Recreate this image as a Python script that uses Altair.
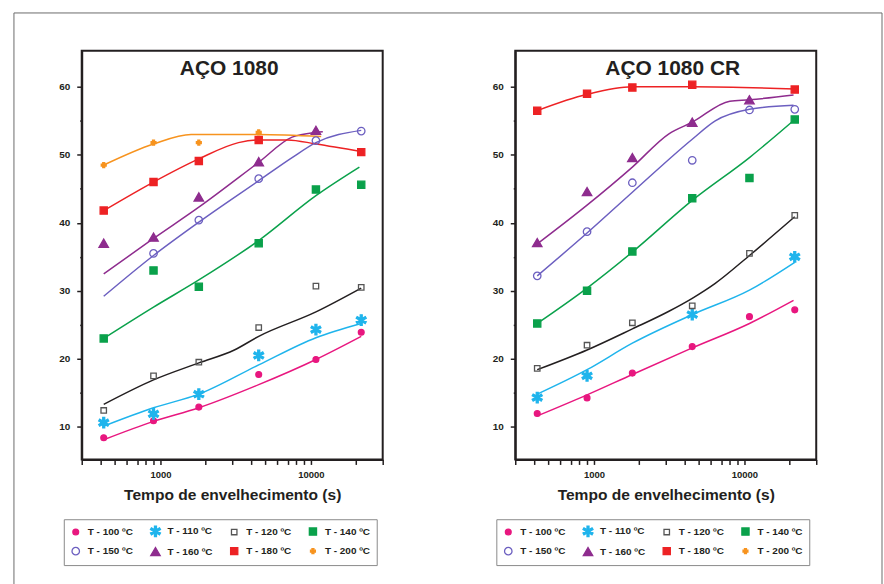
import math
import altair as alt
import pandas as pd

# ---------------- data ----------------
series = ["T - 100 ºC", "T - 110 ºC", "T - 120 ºC", "T - 140 ºC",
          "T - 150 ºC", "T - 160 ºC", "T - 180 ºC", "T - 200 ºC"]
times = [420, 900, 1800, 4500, 10800, 21600]

# AÇO 1080 - measured points (None = no point)
l_100 = [8.4, 10.9, 12.9, 17.7, 19.9, 23.9]
l_110 = [10.6, 11.9, 14.8, 20.5, 24.3, 25.7]
l_120 = [12.4, 17.5, 19.5, 24.6, 30.7, 30.5]
l_140 = [23.0, 33.0, 30.6, 37.0, 44.9, 45.6]
l_150 = [None, 35.5, 40.4, 46.5, 52.1, 53.5]
l_160 = [37.0, 37.9, 43.8, 49.0, 53.6, None]
l_180 = [41.8, 46.0, 49.1, 52.2, None, 50.4]
l_200 = [48.5, 51.8, 51.8, 53.3, None, None]

# AÇO 1080 CR - measured points
r_100 = [11.95, 14.25, 17.9, 21.8, 26.2, 27.2]
r_110 = [14.3, 17.5, None, 26.5, None, 35.0]
r_120 = [18.6, 22.0, 25.3, 27.8, 35.5, 41.1]
r_140 = [25.2, 30.0, 35.8, 43.6, 46.6, 55.2]
r_150 = [32.2, 38.7, 45.9, 49.2, 56.6, 56.7]
r_160 = [37.1, 44.6, 49.6, 54.8, 58.1, None]
r_180 = [56.5, 59.0, 59.9, 60.3, None, 59.6]
r_200 = [None, None, None, None, None, None]

# fitted curves (time, value)
lf_100_t = [420, 900, 1800, 4500, 10800, 21600]
lf_100_v = [8.1, 10.8, 12.8, 16.2, 19.9, 23.3]
lf_110_t = [420, 900, 1800, 4500, 10800, 21600]
lf_110_v = [10.1, 12.8, 14.8, 19.1, 23.1, 25.2]
lf_120_t = [420, 900, 1800, 3100, 4500, 10800, 21600]
lf_120_v = [13.3, 16.9, 19.4, 21.3, 23.3, 26.9, 30.4]
lf_140_t = [420, 900, 1800, 4500, 10800, 21000]
lf_140_v = [23.0, 27.6, 31.6, 37.4, 44.0, 48.2]
lf_150_t = [420, 900, 1800, 4500, 7500, 10800, 21600]
lf_150_v = [29.2, 35.2, 40.1, 46.2, 49.6, 51.8, 53.6]
lf_160_t = [420, 900, 1800, 4500, 7500, 10800, 12000]
lf_160_v = [32.5, 37.7, 42.3, 48.9, 52.6, 53.3, 53.4]
lf_180_t = [420, 900, 1800, 3300, 4500, 7000, 10800, 21600]
lf_180_v = [41.8, 46.0, 49.4, 51.8, 52.2, 52.2, 51.6, 50.5]
lf_200_t = [420, 900, 1600, 4500, 11700]
lf_200_v = [48.5, 51.6, 53.0, 53.0, 52.7]

rf_100_t = [420, 900, 1800, 4500, 10800, 21200]
rf_100_v = [11.6, 14.7, 17.7, 21.6, 25.2, 28.6]
rf_110_t = [420, 900, 1800, 4500, 10800, 21600]
rf_110_v = [14.8, 18.4, 22.3, 26.5, 30.1, 34.2]
rf_120_t = [420, 900, 1800, 3150, 4500, 6400, 10800, 21600]
rf_120_v = [18.4, 21.3, 24.4, 27.0, 28.9, 31.1, 35.2, 40.9]
rf_140_t = [420, 900, 1800, 4500, 10800, 21600]
rf_140_v = [25.2, 30.4, 35.7, 43.3, 49.6, 55.2]
rf_150_t = [420, 900, 1800, 4500, 6400, 10800, 21200]
rf_150_v = [32.2, 38.5, 44.5, 52.3, 55.0, 56.7, 57.3]
rf_160_t = [420, 900, 1800, 3150, 4500, 8000, 10800, 21200]
rf_160_v = [36.9, 42.6, 48.2, 53.1, 54.8, 57.9, 58.1, 58.8]
rf_180_t = [420, 900, 1800, 4500, 21600]
rf_180_v = [56.5, 58.9, 60.0, 60.0, 59.7]

x_ticks = [300, 400, 500, 600, 700, 800, 900, 1000, 2000, 3000, 4000, 5000,
           6000, 7000, 8000, 9000, 10000, 20000, 30000]
y_ticks = [10, 15, 20, 25, 30, 35, 40, 45, 50, 55, 60]

# ---------------- styles ----------------
INK = "#231f20"
FONT = "Liberation Sans"
marker_stroke = ["#e8177f", "#1fb4ec", "#555555", "#0aa14b",
                 "#6c5fc0", "#8e2c8e", "#ed2224", "#f7931e"]
marker_fill = ["#e8177f", "#1fb4ec", "transparent", "#0aa14b",
               "transparent", "#8e2c8e", "#ed2224", "#f7931e"]
line_colors = ["#e8177f", "#1fb4ec", INK, "#0aa14b",
               "#6c5fc0", "#8e2c8e", "#ed2224", "#f7931e"]
fit_keys = ["fit " + s for s in series]


def star_path(w=0.19):
    parts = []
    for deg in (90, 30, 150):
        a = math.radians(deg)
        ux, uy = math.cos(a), math.sin(a)
        px, py = -uy, ux
        pts = [(ux + px * w, uy + py * w), (ux - px * w, uy - py * w),
               (-ux - px * w, -uy - py * w), (-ux + px * w, -uy + py * w)]
        parts.append("M" + " L".join(f"{x:.3f},{y:.3f}" for x, y in pts) + " Z")
    return " ".join(parts)


shapes = ["circle", star_path(), "square", "square",
          "circle", "triangle-up", "square", "cross"]
sizes = [34, 110, 30, 52, 56, 90, 52, 24]


def points_df(vals):
    rows = []
    for s, vs in zip(series, vals):
        for t, v in zip(times, vs):
            if v is not None:
                rows.append({"t": t, "v": v, "s": s})
    return pd.DataFrame(rows)


def fit_df(fits):
    rows = []
    for k, (ts, vs) in zip(fit_keys, fits):
        for t, v in zip(ts, vs):
            rows.append({"t": t, "v": v, "k": k})
    return pd.DataFrame(rows)


left_pts = points_df([l_100, l_110, l_120, l_140, l_150, l_160, l_180, l_200])
right_pts = points_df([r_100, r_110, r_120, r_140, r_150, r_160, r_180, r_200])
left_fit = fit_df([(lf_100_t, lf_100_v), (lf_110_t, lf_110_v), (lf_120_t, lf_120_v),
                   (lf_140_t, lf_140_v), (lf_150_t, lf_150_v), (lf_160_t, lf_160_v),
                   (lf_180_t, lf_180_v), (lf_200_t, lf_200_v)])
right_fit = fit_df([(rf_100_t, rf_100_v), (rf_110_t, rf_110_v), (rf_120_t, rf_120_v),
                    (rf_140_t, rf_140_v), (rf_150_t, rf_150_v), (rf_160_t, rf_160_v),
                    (rf_180_t, rf_180_v)])

W, H = 302, 410
x_scale = alt.Scale(type="log", domain=[300, 30000], nice=False)
y_scale = alt.Scale(domain=[5.2, 65.3], nice=False, zero=False)

x_axis = alt.Axis(
    values=x_ticks,
    labelExpr="(datum.value == 1000 || datum.value == 10000) ? format(datum.value, 'd') : ''",
    title="Tempo de envelhecimento (s)",
    grid=False, tickSize=5, tickWidth=1.5, tickColor=INK,
    domainColor=INK, domainWidth=2,
    labelFont=FONT, labelFontWeight="bold", labelFontSize=9.5, labelColor=INK,
    labelPadding=5,
    titleFont=FONT, titleFontWeight="bold", titleFontSize=15.6, titleColor=INK,
    titlePadding=9,
)
y_axis = alt.Axis(
    values=y_ticks,
    labelExpr="datum.value % 10 == 0 ? datum.label : ''",
    title=None,
    grid=False,
    tickSize={"condition": {"test": "datum.value % 10 == 0", "value": 5}, "value": 2},
    tickWidth=1.5, tickColor=INK,
    domainColor=INK, domainWidth=2,
    labelFont=FONT, labelFontWeight="bold", labelFontSize=10, labelColor=INK,
    labelPadding=7,
)


def legend(lx, ly):
    return alt.Legend(
        orient="none", legendX=lx, legendY=ly, columns=4, direction="horizontal",
        columnPadding=14, rowPadding=5, padding=6,
        labelFont=FONT, labelFontWeight="bold", labelFontSize=10, labelColor=INK,
        labelOffset=6, symbolStrokeWidth=1.3, strokeColor="#8a8a8a",
    )


def panel(pts, fit, title, title_x, lx, ly, frame=False):
    leg = legend(lx, ly)
    lines = alt.Chart(fit).mark_line(strokeWidth=1.5, interpolate="monotone").encode(
        x=alt.X("t:Q", scale=x_scale, axis=x_axis),
        y=alt.Y("v:Q", scale=y_scale, axis=y_axis),
        color=alt.Color("k:N", scale=alt.Scale(domain=fit_keys, range=line_colors), legend=None),
    )
    marks = alt.Chart(pts).mark_point(opacity=1, strokeWidth=1.3).encode(
        x=alt.X("t:Q", scale=x_scale, axis=x_axis),
        y=alt.Y("v:Q", scale=y_scale, axis=y_axis),
        shape=alt.Shape("s:N", scale=alt.Scale(domain=series, range=shapes), legend=leg, title=None),
        stroke=alt.Stroke("s:N", scale=alt.Scale(domain=series, range=marker_stroke), legend=leg, title=None),
        fill=alt.Fill("s:N", scale=alt.Scale(domain=series, range=marker_fill), legend=leg, title=None),
        size=alt.Size("s:N", scale=alt.Scale(type="ordinal", domain=series, range=sizes), legend=leg, title=None),
    )
    ttl = alt.Chart(pd.DataFrame({"title": [title]})).mark_text(
        font=FONT, fontWeight="bold", fontSize=21, color=INK, align="center", baseline="middle"
    ).encode(text="title:N", x=alt.value(title_x), y=alt.value(18))
    layers = [lines, marks, ttl]
    if frame:
        one = pd.DataFrame({"k": [0]})
        fr = dict(stroke="#6b6b6b", strokeWidth=1)
        layers.append(alt.Chart(one).mark_rule(**fr).encode(
            x=alt.value(-68), x2=alt.value(803), y=alt.value(-38)))
        layers.append(alt.Chart(one).mark_rule(**fr).encode(
            x=alt.value(-68), y=alt.value(-38), y2=alt.value(536)))
        layers.append(alt.Chart(one).mark_rule(**fr).encode(
            x=alt.value(803), y=alt.value(-38), y2=alt.value(536)))
    return alt.layer(*layers).properties(width=W, height=H)


left = panel(left_pts, left_fit, "AÇO 1080", 148, -18, 470, frame=True)
right = panel(right_pts, right_fit, "AÇO 1080 CR", 158, -19, 470)

chart = alt.HConcatChart(hconcat=[left, right], spacing=133, bounds="flush").resolve_scale(
    shape="independent", stroke="independent", fill="independent", size="independent", color="independent"
).resolve_legend(
    shape="independent", stroke="independent", fill="independent", size="independent"
).properties(
    padding={"left": 12, "top": 10, "right": 0, "bottom": 0},
    background="white",
).configure_view(stroke=INK, strokeWidth=2)

chart.save("out.html", embed_options={"renderer": "svg", "actions": False})
